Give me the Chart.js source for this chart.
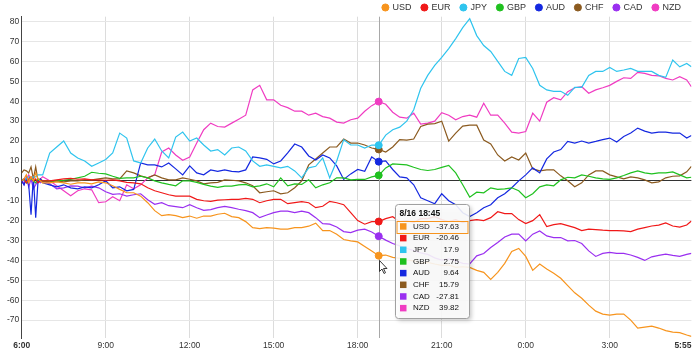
<!DOCTYPE html>
<html>
<head>
<meta charset="utf-8">
<script src="https://cdn.jsdelivr.net/npm/chart.js@4.4.0/dist/chart.umd.min.js"></script>
<style>
  html, body { margin: 0; padding: 0; background: #fff; }
  #wrap { width: 700px; height: 360px; }
</style>
</head>
<body>
<div id="wrap"><canvas id="chart1" width="700" height="360"></canvas></div>
<script>
const times = [
  "6:00","6:05","6:10","6:15","6:20","6:25","6:30","6:35","6:40","6:45",
  "7:00","7:15","7:30","7:45","8:00","8:15","8:30","8:45",
  "9:00","9:15","9:30","9:45","10:00","10:15","10:30","10:45",
  "11:00","11:15","11:30","11:45","12:00","12:15","12:30","12:45",
  "13:00","13:15","13:30","13:45","14:00","14:15","14:30","14:45",
  "15:00","15:15","15:30","15:45","16:00","16:15","16:30","16:45",
  "17:00","17:15","17:30","17:45","18:00","18:15","18:30","18:45",
  "19:00","19:15","19:30","19:45","20:00","20:15","20:30","20:45",
  "21:00","21:15","21:30","21:45","22:00","22:15","22:30","22:45",
  "23:00","23:15","23:30","23:45","0:00","0:15","0:30","0:45",
  "1:00","1:15","1:30","1:45","2:00","2:15","2:30","2:45",
  "3:00","3:15","3:30","3:45","4:00","4:15","4:30","4:45",
  "5:00","5:15","5:30","5:45","5:55"
];

const currencies = ["USD", "EUR", "JPY", "GBP", "AUD", "CHF", "CAD", "NZD"];
const colors = ["#f7941d", "#f01818", "#2fc4ee", "#1fc11f", "#1428e0", "#8b5a1f", "#9a2ff0", "#f03cc2"];

const usd = [0,1,3,-1,2,0,4,1,0,-1,
  -1,-0.5,-1,-1.7, -1,-1,-1.5,-0.5, -1,-2.5,-4.3,-6, -6,-7.7,-11,-15,
  -17.5,-17,-17.5,-18.5, -17.7,-18.8,-17.7,-17.7, -16.8,-16.3,-18,-18.5, -20.5,-23.5,-24,-23.5,
  -23.8,-24.3,-24.3,-23.5, -23.5,-22.8,-21.3,-25, -25,-26.8,-29.5,-30.2, -30.7,-33,-35.3,-37.63,
  -37.3,-38.5,-39,-39.8, -40.2,-41.5,-41,-41.8, -42.5,-42.3,-43.5,-43.2, -43.5,-45,-46,-49.5,
  -46,-41.5,-35.5,-34, -38,-45,-41.8,-44.3, -46.5,-49,-52.7,-56.3, -59,-62.5,-65.5,-67,
  -67.5,-67,-67,-70, -74,-73.5,-73,-74, -75.3,-76,-76.3,-77.5, -78.2];

const eur = [0,1,-1,1,2,0,1,-1,0,0,
  0,0.5,1,1.2, 0.8,1,0.5,0.5, 0.3,0.5,0,-0.8, -1,-1.5,-3.5,-5,
  -6,-7,-7.7,-7.7, -7.7,-9.3,-10,-10.3, -9.7,-9.5,-9.3,-9.3, -8.8,-9.3,-11,-10,
  -9.3,-9.3,-11.5,-11, -10.5,-11,-13.5,-12.8, -10.3,-11,-12,-16, -20,-21.8,-20.5,-20.46,
  -19,-18,-20.5,-20, -21,-19,-19,-18, -19.5,-20.5,-19.5,-21, -20,-19.5,-20,-18.5,
  -15.5,-16.5,-16.5,-19.5, -21.5,-20,-17,-23, -22,-21.5,-22.5,-23.5, -25,-24.3,-24.5,-24.8,
  -25,-25,-25.2,-25.5, -24.3,-23.5,-22.7,-22.3, -21.2,-22.7,-23.3,-22.2, -20.2];

const jpy = [1,0,1,2,1,2,2,3,3,3,
  14,17,20,14, 11.5,10,7.3,9, 10.7,14,24,21.5, 10,9,16.5,21,
  15,11.5,22,24.5, 20,21.5,18,15, 15.7,13,16.5,17, 15,10,7.3,8,
  7.3,6.5,7.3,5, 1.5,6.5,7.3,11.5, 1.5,10,20.7,18, 18,16.5,18,17.9,
  23,25.7,27,30, 35.7,46.5,53,58, 62,66.5,71.5,77, 81.5,73,68,65,
  60,55,53,61.5, 62,56.5,48,45.7, 45,45,43,47, 47,53,55,55,
  57,55,55.7,56.5, 55,55,55,53, 52,60.7,57.3,59, 57.3];

const gbp = [0,1,-1,0,1,0,-1,1,0,0,
  0,0,0.3,0.7, 1.5,2.3,4.3,3.8, 3.5,2.3,1.2,1.5, 1.5,2.3,1.5,0,
  -1,-1.8,-2.5,0, 0,-0.8,-1.8,-2.7, -3.3,-2.7,-2.7,-2, -1.8,-3,-2.5,-1.5,
  -3,1.5,-2.5,-1.5, -1.8,0.5,-3.5,-2, -1,1.5,1.5,0.5, 0.7,0.7,2,2.75,
  6.5,8.5,8.3,8, 6.8,5.7,5.2,5.7, 6.8,7.8,4,-2, -8.2,-5.7,-6,-3.5,
  -4.3,-4,-3.5,-5, -8.5,-6.5,-3,-2, -2.5,0.5,1.8,1.5, 3,2.3,1.5,1,
  0.7,1.5,2.7,4, 5,4,3.5,4, 4,4.5,3,1.5, 1.8];

const aud = [0,-2,1,-2,-17,2,-18.5,0,1,-1,
  -2,-3,-2,-3.5, -4,-3,-3.5,-2, 0,-3.5,-3,-5, -4.3,9,8,8,
  7,9,6,3, 7.5,4,3,5.5, 4.8,5.5,4.8,4.5, 5.5,12,11.5,10.8,
  8.5,10,14,18.5, 17,12.5,10.5,13, 11.5,7.5,0.7,3.5, 5.7,4.8,12,9.64,
  10,5.7,2,1.5, -2,-8.5,-10,-11.5, -6.5,-10,-12,-16, -18,-16,-13.5,-12,
  -8.5,-6.5,-3.5,0, 3,6.5,4,11, 14.5,15.7,19.8,19, 20,19,19.8,20.7,
  21.5,19.5,22.3,24, 26.5,25,24,24.5, 24.5,24,24,21.5, 22.8];

const chf = [4,5.5,5,4,7,1,7,0,1,0,
  -0.5,0,-0.5,0, 0,0.5,0.5,1, 1.5,1,1,5, 4,2.5,1.5,3,
  1.5,0.5,0.5,1.5, 0.8,0,-1.5,-1, -0.8,0.5,0.3,0, -1,-2.5,-6,-5.5,
  -5,-6.5,-6,-3.5, 0,8,11,14, 17,17,21,19, 19,18,16.5,15.79,
  14.5,17,20.7,20.5, 21,27.3,28.5,28.8, 30,20,24,27.5, 28,28,20.5,18.5,
  13,10,12,10.5, 14,6,5,5.5, 5.5,2.5,0,-3, -1,3,5,5,
  3,2,1,2, 1.5,0.5,-1,-0.5, 1.5,2.3,2.5,4.5, 7.3];

const cad = [0,-2,2,-3,1,-4,-2,0,-1,0,
  -1.5,-4,-3.5,-2.5, -2.7,-3.5,-2.7,-3.5, -5.5,-6.8,-6.5,-7.7, -7,-6.5,-9.5,-11.8,
  -11,-12.5,-13,-13.5, -12,-13.5,-14.8,-14.5, -13.5,-12.8,-13.5,-14.3, -15,-16,-18.5,-17.2,
  -16,-15.2,-15.2,-16, -15.2,-16,-18.5,-21.5, -21.8,-23.2,-25.5,-26, -24.8,-24.3,-25.7,-27.81,
  -29.8,-31.5,-32.7,-34, -35,-36.2,-37,-38.7, -39.8,-39.2,-40.2,-41.5, -41.8,-37.7,-36.5,-33.5,
  -31,-28.2,-26.8,-26.8, -30.2,-26.8,-25.2,-27.7, -28.5,-28.5,-30.2,-30, -31.5,-35.2,-38,-36.5,
  -36,-36.5,-36.5,-37.3, -38.5,-40,-38.2,-37.5, -36.8,-37.5,-38,-37, -36.5];

const nzd = [0,-1,1,3,1,0,-1,0,1,2,
  0,-2.5,-5,-7.5, -5,-4,-4.5,-11, -10.5,-8,-10,-2, -4,-2,1.5,3,
  14.5,16.5,13,10.3, 12,19,25.7,29, 27.3,27,29,31, 33,45.7,48,40.7,
  40.7,38,36.8,35, 35,33,34,32.3, 31.5,29.5,29,30.7, 31.5,35,37.8,39.82,
  38.5,34.5,32,31.5, 34,28.5,29,30, 34.3,33,30.7,32.3, 33,32,39,33,
  33,29,24.5,24, 24.8,34,30,39.5, 41.8,40.7,44.8,46.8, 47.3,44,45.7,46.8,
  48,50,51.8,51.5, 54.5,54,53,52.8, 51.5,50.7,52.3,50.7, 47.3];

const series = [usd, eur, jpy, gbp, aud, chf, cad, nzd];

const xTickLabels = ["6:00", "9:00", "12:00", "15:00", "18:00", "21:00", "0:00", "3:00", "5:55"];
const yMin = -79;
const yMax = 82.5;

const hoverDate = "8/16";
const hoverTime = "18:45";

const canvas = document.getElementById("chart1");

function toMinutes(t) {
  const parts = t.split(":").map(Number);
  let v = parts[0] * 60 + parts[1] - 360;
  if (v < 0) v += 1440;
  return v;
}

function fmtMinutes(m) {
  const h = (Math.floor(m / 60) + 6) % 24;
  const mm = m % 60;
  return h + ":" + (mm < 10 ? "0" : "") + mm;
}

const hoverIdx = times.indexOf(hoverTime);
const lastMin = toMinutes(times[times.length - 1]);

const datasets = currencies.map((name, i) => ({
  label: name,
  data: times.map((t, j) => ({ x: toMinutes(t), y: series[i][j] })),
  borderColor: colors[i],
  backgroundColor: colors[i],
  borderWidth: 1.2,
  pointStyle: "circle",
  pointRadius: (ctx) => (ctx.dataIndex === hoverIdx ? 3.5 : 0),
  pointHoverRadius: 0,
  pointBackgroundColor: colors[i],
  pointBorderColor: colors[i],
  pointBorderWidth: 1,
  tension: 0,
}));

// vertical hover line, tooltip box and mouse pointer
const hoverPlugin = {
  id: "hoverBox",
  beforeDatasetsDraw(chart) {
    const ctx = chart.ctx;
    const a = chart.chartArea;
    const x = Math.round(chart.scales.x.getPixelForValue(toMinutes(hoverTime))) + 0.5;
    ctx.save();
    ctx.strokeStyle = "#a8a8a8";
    ctx.lineWidth = 1;
    ctx.beginPath();
    ctx.moveTo(x, a.top);
    ctx.lineTo(x, a.bottom);
    ctx.stroke();
    ctx.restore();
  },
  afterDraw(chart) {
    const ctx = chart.ctx;
    const px = chart.scales.x.getPixelForValue(toMinutes(hoverTime));
    const left = Math.round(px + 16.5) + 0.5;
    const top = 204.5;
    const w = 74;
    const h = 114;
    const r = 3;

    ctx.save();
    ctx.beginPath();
    ctx.moveTo(left + r, top);
    ctx.lineTo(left + w - r, top);
    ctx.quadraticCurveTo(left + w, top, left + w, top + r);
    ctx.lineTo(left + w, top + h - r);
    ctx.quadraticCurveTo(left + w, top + h, left + w - r, top + h);
    ctx.lineTo(left + r, top + h);
    ctx.quadraticCurveTo(left, top + h, left, top + h - r);
    ctx.lineTo(left, top + r);
    ctx.quadraticCurveTo(left, top, left + r, top);
    ctx.closePath();
    ctx.shadowColor = "rgba(0,0,0,0.25)";
    ctx.shadowBlur = 4;
    ctx.shadowOffsetX = 2;
    ctx.shadowOffsetY = 2;
    ctx.fillStyle = "rgba(255,255,255,0.88)";
    ctx.fill();
    ctx.shadowColor = "transparent";
    ctx.strokeStyle = "#a0a0a0";
    ctx.lineWidth = 1;
    ctx.stroke();

    ctx.fillStyle = "#111";
    ctx.textBaseline = "middle";
    ctx.textAlign = "left";
    ctx.font = "bold 8.5px Arial, 'Liberation Sans', sans-serif";
    ctx.fillText(hoverDate + " " + hoverTime, left + 4, top + 9.5);

    ctx.font = "8px Arial, 'Liberation Sans', sans-serif";
    currencies.forEach((name, i) => {
      const y = top + 22 + i * 11.67;
      if (i === 0) {
        ctx.strokeStyle = colors[0];
        ctx.strokeRect(left + 1.5, Math.round(y - 6) + 0.5, w - 3, 12);
      }
      ctx.fillStyle = colors[i];
      ctx.fillRect(left + 4.5, y - 3.3, 6.5, 6.5);
      ctx.fillStyle = "#111";
      ctx.textAlign = "left";
      ctx.fillText(name, left + 17.5, y);
      ctx.textAlign = "right";
      ctx.fillText(String(series[i][hoverIdx]), left + 63.5, y);
    });

    // mouse pointer
    const cx = Math.round(px) + 0.5;
    const cy = 260.5;
    ctx.beginPath();
    ctx.moveTo(cx, cy);
    ctx.lineTo(cx, cy + 11);
    ctx.lineTo(cx + 2.5, cy + 8.5);
    ctx.lineTo(cx + 4.5, cy + 13);
    ctx.lineTo(cx + 6, cy + 12.2);
    ctx.lineTo(cx + 4, cy + 8);
    ctx.lineTo(cx + 7.5, cy + 8);
    ctx.closePath();
    ctx.fillStyle = "#fff";
    ctx.fill();
    ctx.strokeStyle = "#222";
    ctx.lineWidth = 0.9;
    ctx.stroke();
    ctx.restore();
  },
};

Chart.defaults.font.family = "Arial, 'Liberation Sans', sans-serif";

const myChart = new Chart(canvas, {
  type: "line",
  data: { datasets: datasets },
  options: {
    responsive: false,
    animation: false,
    events: [],
    layout: { padding: { top: -7.5, right: 8.6, left: 0, bottom: 0 } },
    plugins: {
      tooltip: { enabled: false },
      legend: {
        position: "top",
        align: "end",
        maxHeight: 24.2,
        labels: {
          usePointStyle: true,
          pointStyle: "circle",
          boxWidth: 5,
          boxHeight: 5,
          padding: 10.5,
          color: "#333",
          font: { size: 9 },
        },
      },
    },
    scales: {
      x: {
        type: "linear",
        min: 0,
        max: lastMin,
        afterBuildTicks: (scale) => {
          scale.ticks = [{ value: -1 }].concat(xTickLabels.map((t) => ({ value: toMinutes(t) })));
        },
        afterFit: (scale) => {
          scale.height = 22;
        },
        border: { display: false },
        grid: {
          drawTicks: false,
          color: (ctx) => {
            const v = ctx.tick ? ctx.tick.value : null;
            if (v === null || v <= 0 || v === lastMin) return "rgba(0,0,0,0)";
            return "#dcdcdc";
          },
        },
        ticks: {
          autoSkip: false,
          maxRotation: 0,
          align: "inner",
          padding: 3,
          color: "#333",
          font: (ctx) => ({
            size: 8.5,
            weight: ctx.tick && (ctx.tick.value === 0 || ctx.tick.value === lastMin) ? "bold" : "normal",
          }),
          callback: (v) => (v < 0 ? "" : fmtMinutes(v)),
        },
      },
      y: {
        min: yMin,
        max: yMax,
        afterFit: (scale) => {
          scale.width = 21.7;
        },
        border: { display: true, color: "#444", width: 1 },
        grid: {
          drawTicks: false,
          color: (ctx) => (ctx.tick && ctx.tick.value === 0 ? "#333" : "#e6e6e6"),
        },
        ticks: {
          stepSize: 10,
          includeBounds: false,
          padding: 2.5,
          color: "#333",
          font: { size: 8.5 },
        },
      },
    },
  },
  plugins: [hoverPlugin],
});
</script>
</body>
</html>
